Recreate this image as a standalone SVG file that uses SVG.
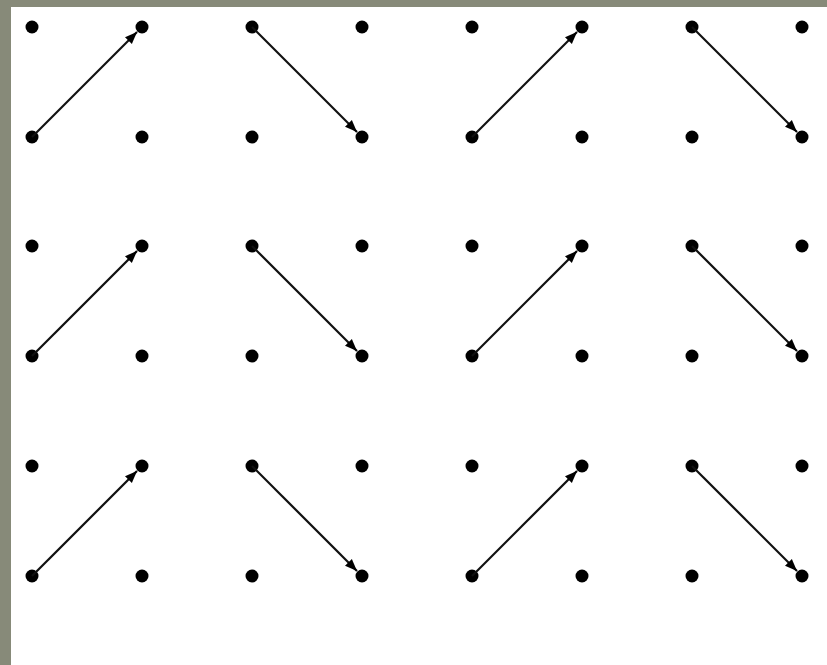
<svg xmlns="http://www.w3.org/2000/svg" width="827" height="665" viewBox="0 0 827 665">
<defs>
<style>
.dot{fill:#000}
.conn line{stroke:#111;stroke-width:2.2}
</style>
<marker id="ah" viewBox="0 0 10 10" refX="10" refY="5" markerWidth="5.5" markerHeight="5.5" markerUnits="strokeWidth" orient="auto">
<path d="M0,1 L10,5 L0,9 Z" fill="#000"/>
</marker>
<g id="cell">
<circle class="dot" cx="0" cy="0" r="6.5"/>
<circle class="dot" cx="110" cy="0" r="6.5"/>
<circle class="dot" cx="0" cy="110" r="6.5"/>
<circle class="dot" cx="110" cy="110" r="6.5"/>
</g>
</defs>
<rect width="827" height="665" fill="#878a79"/>
<rect x="11" y="7" width="816" height="658" fill="#fff"/>
<g id="n1"><use href="#cell" x="32" y="27"/></g>
<g id="n2"><use href="#cell" x="252" y="27"/></g>
<g id="n3"><use href="#cell" x="472" y="27"/></g>
<g id="n4"><use href="#cell" x="692" y="27"/></g>
<g id="n5"><use href="#cell" x="32" y="246"/></g>
<g id="n6"><use href="#cell" x="252" y="246"/></g>
<g id="n7"><use href="#cell" x="472" y="246"/></g>
<g id="n8"><use href="#cell" x="692" y="246"/></g>
<g id="n9"><use href="#cell" x="32" y="466"/></g>
<g id="n10"><use href="#cell" x="252" y="466"/></g>
<g id="n11"><use href="#cell" x="472" y="466"/></g>
<g id="n12"><use href="#cell" x="692" y="466"/></g>
<g class="conn" id="connectors">
<line x1="32" y1="137" x2="137" y2="32" marker-end="url(#ah)"/>
<line x1="252" y1="27" x2="357" y2="132" marker-end="url(#ah)"/>
<line x1="472" y1="137" x2="577" y2="32" marker-end="url(#ah)"/>
<line x1="692" y1="27" x2="797" y2="132" marker-end="url(#ah)"/>
<line x1="32" y1="356" x2="137" y2="251" marker-end="url(#ah)"/>
<line x1="252" y1="246" x2="357" y2="351" marker-end="url(#ah)"/>
<line x1="472" y1="356" x2="577" y2="251" marker-end="url(#ah)"/>
<line x1="692" y1="246" x2="797" y2="351" marker-end="url(#ah)"/>
<line x1="32" y1="576" x2="137" y2="471" marker-end="url(#ah)"/>
<line x1="252" y1="466" x2="357" y2="571" marker-end="url(#ah)"/>
<line x1="472" y1="576" x2="577" y2="471" marker-end="url(#ah)"/>
<line x1="692" y1="466" x2="797" y2="571" marker-end="url(#ah)"/>
</g>
</svg>
